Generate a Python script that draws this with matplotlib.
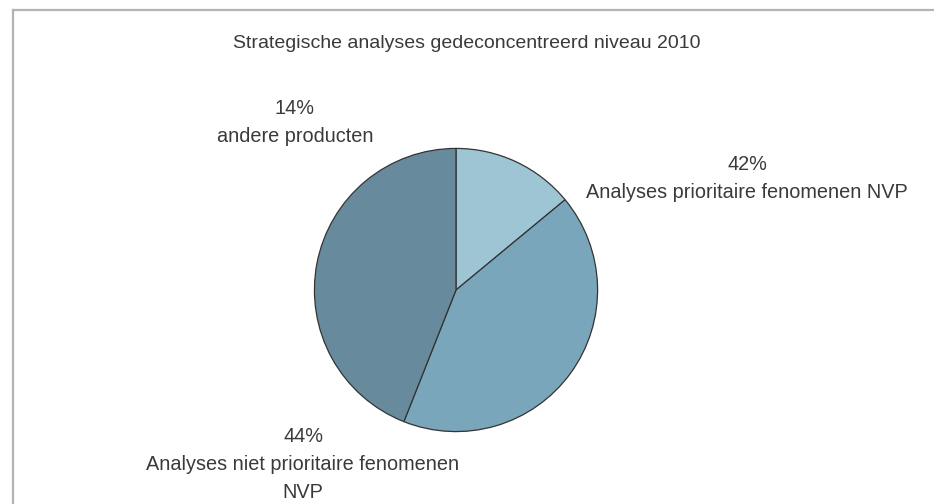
import matplotlib
matplotlib.use("Agg")
import matplotlib.pyplot as plt
from matplotlib.lines import Line2D

title = "Strategische analyses gedeconcentreerd niveau 2010"
labels = ["andere producten", "Analyses prioritaire fenomenen NVP",
          "Analyses niet prioritaire fenomenen\nNVP"]
values = [14, 42, 44]
colors = ["#9dc5d3", "#7aa6bc", "#678b9d"]

W, H = 934, 504
fig = plt.figure(figsize=(W / 100, H / 100), dpi=100)
plt.rcParams["font.family"] = ["Liberation Sans", "DejaVu Sans"]
txt = "#3a3a3a"

# frame (top + left only, like the source)
fig.add_artist(Line2D([13 / W, 1], [1 - 10 / H, 1 - 10 / H], color="#b4b4b4", lw=1.6))
fig.add_artist(Line2D([13 / W, 13 / W], [0, 1 - 10 / H], color="#b4b4b4", lw=1.6))

cx, cy, r = 456, 290, 143
ax = fig.add_axes([(cx - r) / W, (H - cy - r) / H, 2 * r / W, 2 * r / H])
ax.pie(values, colors=colors, startangle=90, counterclock=False,
       wedgeprops=dict(edgecolor="#333333", linewidth=0.9))
ax.set_aspect("equal")
ax.set_xlim(-1.01, 1.01)
ax.set_ylim(-1.01, 1.01)

fig.text(467 / W, 1 - 44 / H, title, ha="center", va="center", fontsize=14, color=txt)

label_pos = [(295, 122), (747, 178), (303, 465)]
for (x, y), v, lab in zip(label_pos, values, labels):
    fig.text(x / W, 1 - y / H, f"{v}%\n{lab}", ha="center", va="center",
             fontsize=14.3, color=txt, linespacing=1.6)

fig.savefig("out.png", dpi=100)
